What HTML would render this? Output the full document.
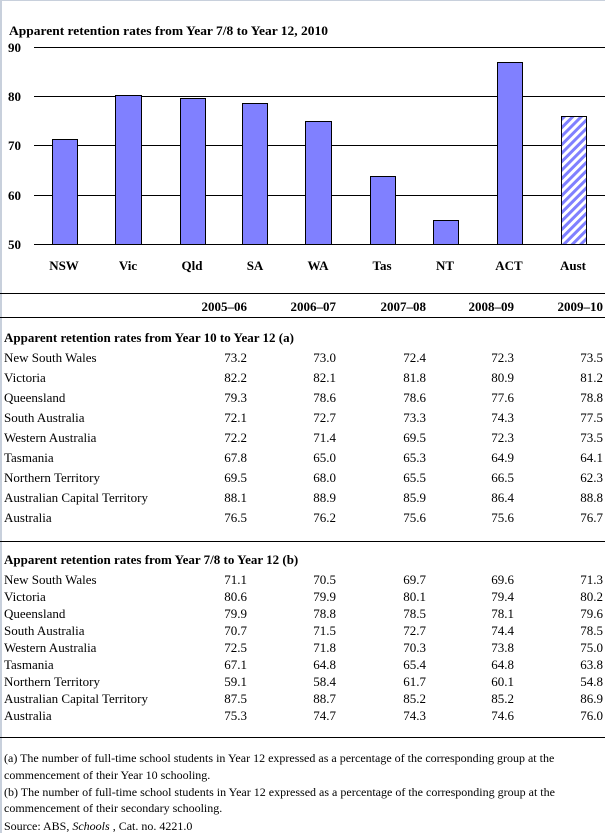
<!DOCTYPE html>
<html><head><meta charset="utf-8"><style>
body{margin:0;width:605px;height:833px;background:#fff;position:relative;font-family:"Liberation Serif",serif;color:#000;overflow:hidden}
.a{position:absolute;white-space:nowrap;font-size:13px;line-height:14px}
.b{font-weight:bold}
.r{text-align:right}
.hl{position:absolute;left:0;width:605px;height:1px;background:#000}
</style></head><body>
<div style="position:absolute;left:0;top:0;width:2px;height:833px;background:#c8d0dc"></div>
<div style="position:absolute;left:0;top:0;width:605px;height:1px;background:#c8d0dc"></div>
<svg style="position:absolute;left:0;top:0" width="605" height="300">
<defs><pattern id="h" width="6" height="6" patternUnits="userSpaceOnUse" patternTransform="rotate(45)"><rect width="6" height="6" fill="#fff"/><rect width="3" height="6" fill="#8080ff"/></pattern></defs>
<g stroke="#000" stroke-width="1">
<line x1="34" x2="605" y1="47.5" y2="47.5"/><line x1="34" x2="605" y1="96.5" y2="96.5"/><line x1="34" x2="605" y1="145.5" y2="145.5"/><line x1="34" x2="605" y1="195.5" y2="195.5"/><line x1="34" x2="605" y1="244.5" y2="244.5"/>
</g>
<g fill="#8080ff" stroke="#000" stroke-width="1">
<rect x="52.5" y="139.5" width="25" height="105"/>
<rect x="115.5" y="95.5" width="26" height="149"/>
<rect x="180.5" y="98.5" width="25" height="146"/>
<rect x="242.5" y="103.5" width="25" height="141"/>
<rect x="305.5" y="121.5" width="26" height="123"/>
<rect x="370.5" y="176.5" width="25" height="68"/>
<rect x="433.5" y="220.5" width="25" height="24"/>
<rect x="497.5" y="62.5" width="25" height="182"/>
<rect x="561.5" y="116.5" width="25" height="128" fill="url(#h)"/>
</g>
<g font-family="Liberation Serif" font-weight="bold" font-size="13">
<text x="9" y="35" textLength="319" lengthAdjust="spacingAndGlyphs">Apparent retention rates from Year 7/8 to Year 12, 2010</text>
<text x="8" y="52">90</text><text x="8" y="101">80</text><text x="8" y="150">70</text><text x="8" y="200">60</text><text x="8" y="249">50</text>
<g text-anchor="middle">
<text x="64" y="270">NSW</text><text x="128" y="270">Vic</text><text x="192" y="270">Qld</text><text x="255" y="270">SA</text><text x="318" y="270">WA</text><text x="382" y="270">Tas</text><text x="445" y="270">NT</text><text x="509" y="270">ACT</text><text x="573" y="270">Aust</text>
</g></g>
</svg>
<div class="hl" style="top:293px"></div>
<div class="hl" style="top:317px"></div>
<div class="hl" style="top:541px"></div>
<div class="hl" style="top:737px"></div>
<div id="t"></div>
<script>
var c=[247,336,426,514,603];
var h='';
function row(y,lab,vals,bold){
 if(lab!==null)h+='<div class="a'+(bold?' b':'')+'" style="left:4px;top:'+y+'px">'+lab+'</div>';
 vals.forEach(function(v,i){h+='<div class="a r'+(bold?' b':'')+'" style="left:'+(c[i]-70)+'px;width:70px;top:'+y+'px">'+v+'</div>';});
}
row(300,null,['2005–06','2006–07','2007–08','2008–09','2009–10'],true);
h+='<div class="a b" style="left:4px;top:331px">Apparent retention rates from Year 10 to Year 12 (a)</div>';
var L=['New South Wales','Victoria','Queensland','South Australia','Western Australia','Tasmania','Northern Territory','Australian Capital Territory','Australia'];
var A=[[73.2,73.0,72.4,72.3,73.5],[82.2,82.1,81.8,80.9,81.2],[79.3,78.6,78.6,77.6,78.8],[72.1,72.7,73.3,74.3,77.5],[72.2,71.4,69.5,72.3,73.5],[67.8,65.0,65.3,64.9,64.1],[69.5,68.0,65.5,66.5,62.3],[88.1,88.9,85.9,86.4,88.8],[76.5,76.2,75.6,75.6,76.7]];
var B=[[71.1,70.5,69.7,69.6,71.3],[80.6,79.9,80.1,79.4,80.2],[79.9,78.8,78.5,78.1,79.6],[70.7,71.5,72.7,74.4,78.5],[72.5,71.8,70.3,73.8,75.0],[67.1,64.8,65.4,64.8,63.8],[59.1,58.4,61.7,60.1,54.8],[87.5,88.7,85.2,85.2,86.9],[75.3,74.7,74.3,74.6,76.0]];
function f(a){return a.map(function(x){return x.toFixed(1)});}
for(var i=0;i<9;i++)row(351+i*20,L[i],f(A[i]));
h+='<div class="a b" style="left:4px;top:553px">Apparent retention rates from Year 7/8 to Year 12 (b)</div>';
for(var i=0;i<9;i++)row(573+i*17,L[i],f(B[i]));
document.getElementById('t').innerHTML=h;
</script>
<div class="a" style="left:4px;top:751px;font-size:12px">(a) The number of full-time school students in Year 12 expressed as a percentage of the corresponding group at the</div>
<div class="a" style="left:4px;top:768px;font-size:12px">commencement of their Year 10 schooling.</div>
<div class="a" style="left:4px;top:785px;font-size:12px">(b) The number of full-time school students in Year 12 expressed as a percentage of the corresponding group at the</div>
<div class="a" style="left:4px;top:801px;font-size:12px">commencement of their secondary schooling.</div>
<div class="a" style="left:4px;top:819px;font-size:12px">Source: ABS, <i>Schools</i> , Cat. no. 4221.0</div>
</body></html>
